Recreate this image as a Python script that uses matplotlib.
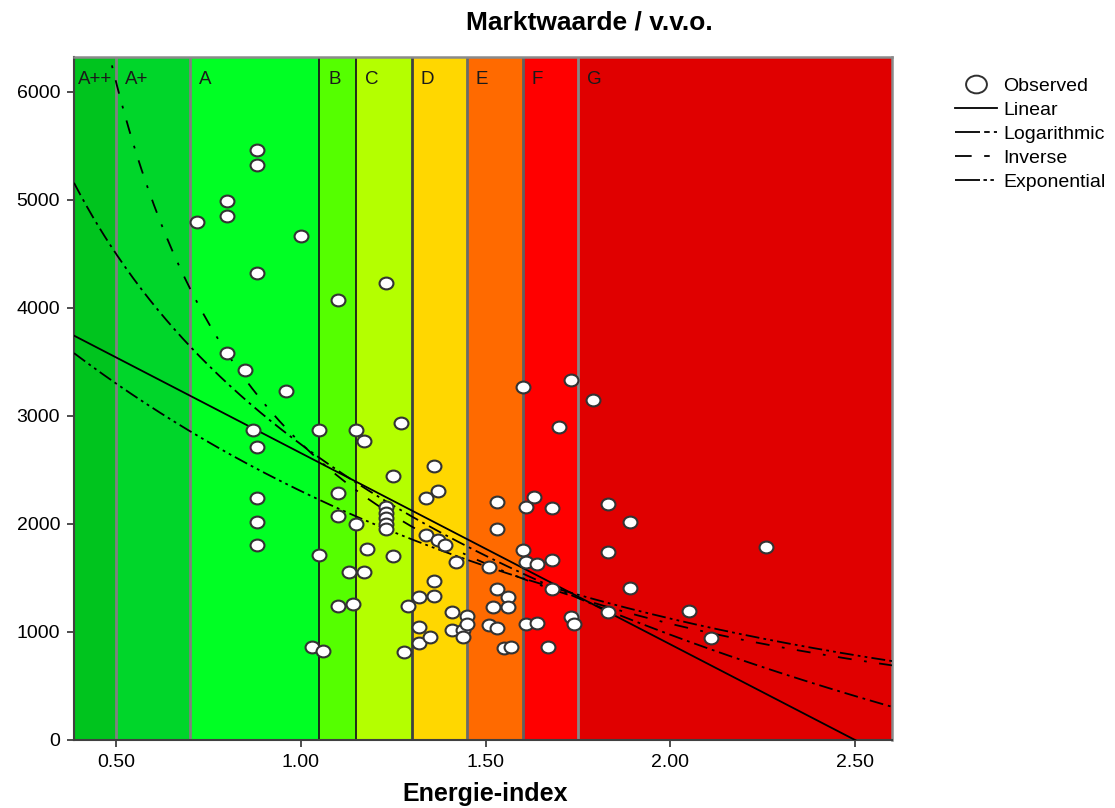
"""
Marktwaarde / v.v.o. tegen energie-index, met energielabel-banden
"""
import numpy as np
import matplotlib
matplotlib.use('Agg')
import matplotlib.pyplot as plt
from matplotlib.lines import Line2D
from matplotlib.path import Path

plt.rcParams['font.family'] = ['Liberation Sans', 'DejaVu Sans']
plt.rcParams['lines.scale_dashes'] = False

#======================================================================================================
# data
#======================================================================================================

band_labels = ['A++', 'A+', 'A', 'B', 'C', 'D', 'E', 'F', 'G']
band_edges = [0.386, 0.50, 0.70, 1.05, 1.15, 1.30, 1.45, 1.60, 1.75, 2.60]
band_colors = ['#00c41e', '#00d62a', '#00ff24', '#55ff00', '#b4ff00',
               '#ffd700', '#ff6a00', '#ff0000', '#e00000']
edge_colors = ['#808080', '#808080', '#1a1a1a', '#1a1a1a', '#404040',
               '#6a6a6a', '#606060', '#888888']

energie_index = [
    0.72, 0.80, 0.80, 0.80, 0.85, 0.87, 0.88, 0.88, 0.88, 0.88, 0.88, 0.88, 0.88, 0.96, 1.00, 1.03,
    1.05, 1.05, 1.06, 1.10, 1.10, 1.10, 1.10, 1.13, 1.14,
    1.15, 1.15, 1.17, 1.17, 1.18, 1.23, 1.23, 1.23, 1.23, 1.23, 1.23, 1.25, 1.25, 1.27, 1.28, 1.29,
    1.32, 1.32, 1.32, 1.34, 1.34, 1.35, 1.36, 1.36, 1.36, 1.37, 1.37, 1.39, 1.41, 1.41, 1.42, 1.44, 1.44,
    1.45, 1.45, 1.51, 1.51, 1.52, 1.53, 1.53, 1.53, 1.53, 1.55, 1.56, 1.56, 1.57, 1.60, 1.60,
    1.61, 1.61, 1.61, 1.63, 1.64, 1.64, 1.67, 1.68, 1.68, 1.68, 1.70, 1.73, 1.73, 1.74,
    1.79, 1.83, 1.83, 1.83, 1.89, 1.89, 2.05, 2.11, 2.26,
]
marktwaarde = [
    4790, 4990, 4850, 3580, 3420, 2870, 5460, 5320, 4320, 2710, 2240, 2020, 1800, 3230, 4660, 860,
    2870, 1710, 820, 4070, 2290, 2070, 1240, 1550, 1260,
    2870, 2000, 2770, 1550, 1770, 4230, 2160, 2100, 2050, 2000, 1950, 2440, 1700, 2930, 810, 1240,
    1320, 1050, 900, 2240, 1900, 950, 2540, 1470, 1330, 2300, 1850, 1800, 1180, 1020, 1650, 1020, 950,
    1150, 1070, 1600, 1060, 1230, 2200, 1950, 1400, 1040, 850, 1320, 1230, 860, 3270, 1760,
    2160, 1650, 1070, 2250, 1630, 1080, 860, 2150, 1670, 1400, 2900, 3330, 1140, 1070,
    3150, 2180, 1740, 1180, 2020, 1410, 1190, 940, 1790,
]

# curve estimation coefficients (b0, b1)
linear_coef = [4425, -1770]
log_coef = [2736, -2542]
inverse_coef = [-594, 3340]
exp_coef = [4723, -0.718]

x_ticks = [0.5, 1.0, 1.5, 2.0, 2.5]
y_ticks = [0, 1000, 2000, 3000, 4000, 5000, 6000]

#======================================================================================================
# plot
#======================================================================================================

fig = plt.figure(figsize=(11.15, 8.08), dpi=100)
ax = fig.add_axes([74 / 1115, 68 / 808, 818 / 1115, 683 / 808])
xmin, xmax = band_edges[0], band_edges[-1]
ax.set_xlim(xmin, xmax)
ax.set_ylim(0, 6320)

for i, lab in enumerate(band_labels):
    ax.axvspan(band_edges[i], band_edges[i + 1], color=band_colors[i], lw=0, zorder=0)
    off = 0.012 if i == 0 else 0.024
    ax.text(band_edges[i] + off, 6110, lab, fontsize=13.5, color='#1a1a1a', va='center', ha='left', zorder=2)
for i, c in enumerate(edge_colors):
    ax.axvline(band_edges[i + 1], color=c, lw=2 if c != '#1a1a1a' else 1.3, zorder=1)

xf = np.linspace(xmin, xmax, 400)
ax.plot(xf, linear_coef[0] + linear_coef[1] * xf, color='black', lw=1.3, zorder=3)
ax.plot(xf, log_coef[0] + log_coef[1] * np.log(xf), color='black', lw=1.3,
        dashes=(10, 3.5, 2, 3.5), zorder=3)
ax.plot(xf, inverse_coef[0] + inverse_coef[1] / xf, color='black', lw=1.3,
        dashes=(10, 9, 2, 9), zorder=3)
ax.plot(xf, exp_coef[0] * np.exp(exp_coef[1] * xf), color='black', lw=1.3,
        dashes=(10, 3, 2, 3, 2, 3), zorder=3)

circ = Path.unit_circle()
oval = Path(circ.vertices * [1.0, 0.85], circ.codes)
ax.scatter(energie_index, marktwaarde, s=100, marker=oval, facecolor='white',
           edgecolor='#333333', linewidths=1.5, zorder=4)

ax.set_xticks(x_ticks)
ax.set_xticklabels(['%.2f' % v for v in x_ticks])
ax.set_yticks(y_ticks)
ax.tick_params(direction='out', length=5, width=1.2, color='#303030', labelsize=14, pad=5)
for s in ['left', 'bottom']:
    ax.spines[s].set_color('#404040')
    ax.spines[s].set_linewidth(1.5)
for s in ['top', 'right']:
    ax.spines[s].set_color('#8a8a8a')
    ax.spines[s].set_linewidth(1.8)

fig.text(589 / 1115, 1 - 22 / 808, 'Marktwaarde / v.v.o.', fontsize=19, fontweight='bold',
         ha='center', va='center')
fig.text(485 / 1115, 1 - 794 / 808, 'Energie-index', fontsize=18, fontweight='bold',
         ha='center', va='center')

handles = [
    Line2D([], [], ls='none', marker=oval, markersize=15, markerfacecolor='white',
           markeredgecolor='#303030', markeredgewidth=1.4),
    Line2D([], [], color='black', lw=1.3),
    Line2D([], [], color='black', lw=1.3, dashes=(18, 3, 4, 3)),
    Line2D([], [], color='black', lw=1.3, dashes=(12, 9, 4, 9)),
    Line2D([], [], color='black', lw=1.3, dashes=(18, 2.5, 2.5, 2.5, 2.5, 2.5)),
]
ax.legend(handles, ['Observed', 'Linear', 'Logarithmic', 'Inverse', 'Exponential'],
          loc='upper left', bbox_to_anchor=(955 / 1115, 1 - 77 / 808), bbox_transform=fig.transFigure,
          frameon=False, fontsize=14, handlelength=2.15, handletextpad=0.35, labelspacing=0.33,
          borderaxespad=0, borderpad=0)

fig.savefig('out.png', dpi=100)
